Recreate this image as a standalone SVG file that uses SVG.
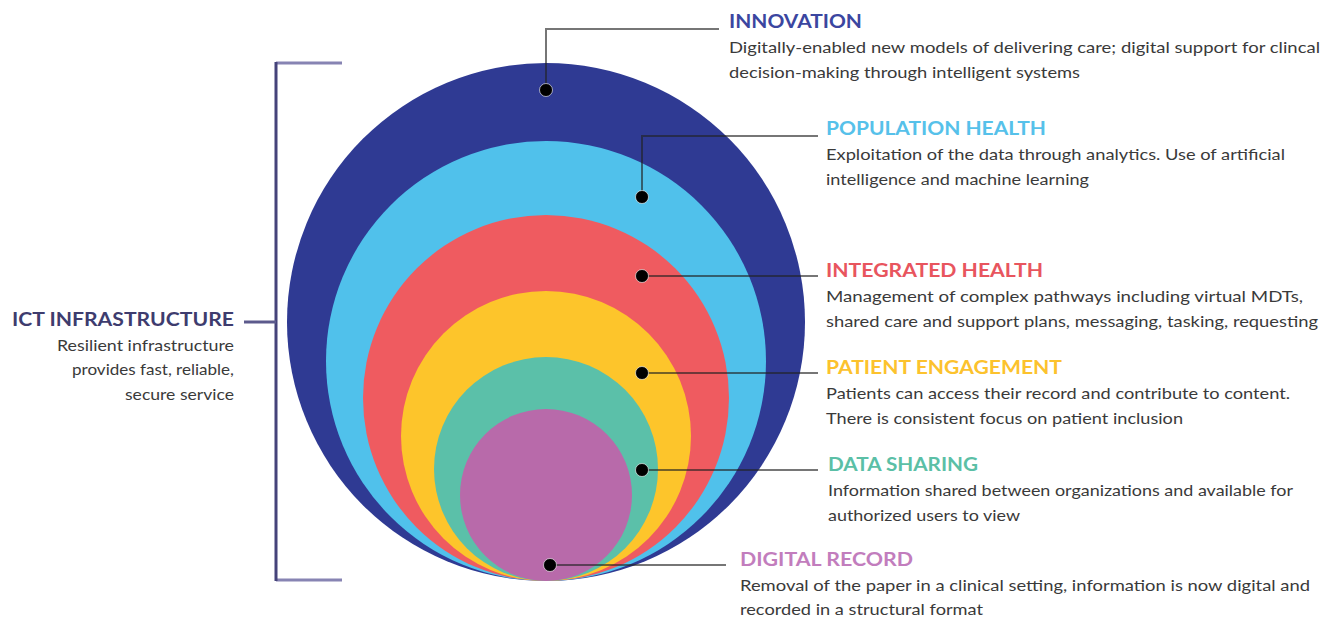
<svg xmlns="http://www.w3.org/2000/svg" width="1336" height="619" viewBox="0 0 1336 619">
<style>
.h{font-family:Lato,"Open Sans","Liberation Sans",sans-serif;font-weight:bold;font-size:19px}
.d{font-family:Lato,"Open Sans","Liberation Sans",sans-serif;font-size:16px;fill:#3a3a3a}
.con{fill:none;stroke:#222;stroke-opacity:0.62;stroke-width:2}
.dot{fill:#000;stroke:#fff;stroke-opacity:0.6;stroke-width:1}
.br{fill:none;stroke-width:3}
</style>
<rect width="1336" height="619" fill="#fff"/>
<g id="circles">
<circle id="c-innovation" cx="546" cy="322" r="259" fill="#2f3a93"/>
<circle id="c-population" cx="546" cy="361" r="220" fill="#50c1eb"/>
<circle id="c-integrated" cx="546" cy="398" r="183" fill="#ef5b60"/>
<circle id="c-patient" cx="546" cy="436" r="145" fill="#fdc52b"/>
<circle id="c-data" cx="546" cy="469" r="112" fill="#5bc0a9"/>
<circle id="c-record" cx="546" cy="495" r="86" fill="#b86aaa"/>
</g>
<g id="bracket">
<path class="br" d="M342 63 H276" stroke="#8784b3"/>
<path class="br" d="M342 580 H276" stroke="#8784b3"/>
<path class="br" d="M276 62 V581" stroke="#45437a" stroke-width="2.5"/>
<path class="br" d="M244 322 H276" stroke="#5c5a8c"/>
</g>
<g id="connectors">
<path class="con" d="M546 90 V29 H719"/>
<path class="con" d="M642 197 V136 H818"/>
<path class="con" d="M642 276 H818"/>
<path class="con" d="M642 373 H818"/>
<path class="con" d="M642 470 H818"/>
<path class="con" d="M550 565 H726"/>
<circle class="dot" cx="546" cy="90" r="6.5"/>
<circle class="dot" cx="642" cy="197" r="6.5"/>
<circle class="dot" cx="642" cy="276" r="6.5"/>
<circle class="dot" cx="642" cy="373" r="6.5"/>
<circle class="dot" cx="642" cy="470" r="6.5"/>
<circle class="dot" cx="550" cy="565" r="6.5"/>
</g>
<g id="innovation">
<text class="h" x="729" y="28" fill="#3b46a0" textLength="133" lengthAdjust="spacingAndGlyphs">INNOVATION</text>
<text class="d" x="729" y="53" textLength="591" lengthAdjust="spacingAndGlyphs">Digitally-enabled new models of delivering care; digital support for clincal</text>
<text class="d" x="729" y="78" textLength="351" lengthAdjust="spacingAndGlyphs">decision-making through intelligent systems</text>
</g>
<g id="population-health">
<text class="h" x="826" y="135" fill="#56c1ea" textLength="220" lengthAdjust="spacingAndGlyphs">POPULATION HEALTH</text>
<text class="d" x="826" y="160" textLength="459" lengthAdjust="spacingAndGlyphs">Exploitation of the data through analytics. Use of artificial</text>
<text class="d" x="826" y="185" textLength="263" lengthAdjust="spacingAndGlyphs">intelligence and machine learning</text>
</g>
<g id="integrated-health">
<text class="h" x="826" y="277" fill="#e8555e" textLength="217" lengthAdjust="spacingAndGlyphs">INTEGRATED HEALTH</text>
<text class="d" x="826" y="302" textLength="477" lengthAdjust="spacingAndGlyphs">Management of complex pathways including virtual MDTs,</text>
<text class="d" x="826" y="327" textLength="492" lengthAdjust="spacingAndGlyphs">shared care and support plans, messaging, tasking, requesting</text>
</g>
<g id="patient-engagement">
<text class="h" x="826" y="374" fill="#fcc22d" textLength="236" lengthAdjust="spacingAndGlyphs">PATIENT ENGAGEMENT</text>
<text class="d" x="826" y="399" textLength="464" lengthAdjust="spacingAndGlyphs">Patients can access their record and contribute to content.</text>
<text class="d" x="826" y="424" textLength="357" lengthAdjust="spacingAndGlyphs">There is consistent focus on patient inclusion</text>
</g>
<g id="data-sharing">
<text class="h" x="828" y="471" fill="#5bbfa6" textLength="150" lengthAdjust="spacingAndGlyphs">DATA SHARING</text>
<text class="d" x="828" y="496" textLength="465" lengthAdjust="spacingAndGlyphs">Information shared between organizations and available for</text>
<text class="d" x="828" y="521" textLength="192" lengthAdjust="spacingAndGlyphs">authorized users to view</text>
</g>
<g id="digital-record">
<text class="h" x="740" y="566" fill="#c27dbd" textLength="173" lengthAdjust="spacingAndGlyphs">DIGITAL RECORD</text>
<text class="d" x="740" y="591" textLength="570" lengthAdjust="spacingAndGlyphs">Removal of the paper in a clinical setting, information is now digital and</text>
<text class="d" x="740" y="615" textLength="243" lengthAdjust="spacingAndGlyphs">recorded in a structural format</text>
</g>
<g id="ict-infrastructure">
<text class="h" x="234" y="326" fill="#3e3c6e" text-anchor="end" textLength="222" lengthAdjust="spacingAndGlyphs">ICT INFRASTRUCTURE</text>
<text class="d" x="234" y="351" text-anchor="end" textLength="177" lengthAdjust="spacingAndGlyphs">Resilient infrastructure</text>
<text class="d" x="234" y="375" text-anchor="end" textLength="162" lengthAdjust="spacingAndGlyphs">provides fast, reliable,</text>
<text class="d" x="234" y="400" text-anchor="end" textLength="109" lengthAdjust="spacingAndGlyphs">secure service</text>
</g>
</svg>
